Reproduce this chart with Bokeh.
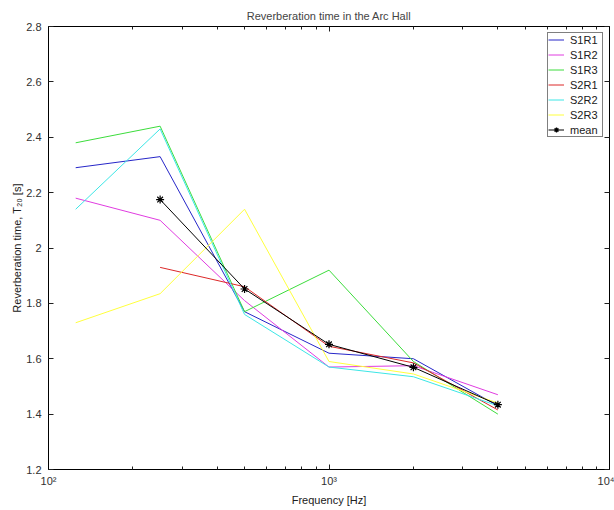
import math
from bokeh.plotting import figure
from bokeh.models import FixedTicker, LogAxis, LinearAxis, Legend, LegendItem
from bokeh.embed import file_html
from bokeh.resources import INLINE

freq = [125, 250, 500, 1000, 2000, 4000]
nan = float("nan")
S1R1 = [2.29, 2.33, 1.77, 1.62, 1.60, 1.43]
S1R2 = [2.18, 2.10, 1.81, 1.57, 1.575, 1.47]
S1R3 = [2.38, 2.44, 1.77, 1.92, 1.59, 1.40]
S2R1 = [nan, 1.93, 1.86, 1.645, 1.585, 1.415]
S2R2 = [2.14, 2.43, 1.76, 1.57, 1.535, 1.43]
S2R3 = [1.73, 1.835, 2.14, 1.59, 1.545, 1.44]
mean = [nan, 2.175, 1.852, 1.652, 1.569, 1.434]

series_names = ["S1R1", "S1R2", "S1R3", "S2R1", "S2R2", "S2R3"]
series_vals = [S1R1, S1R2, S1R3, S2R1, S2R2, S2R3]
series_colors = ["#2626c8", "#e03ce0", "#3cdc3c", "#dc2828", "#3ce6e6", "#ffff3c"]

x_major = [100, 1000, 10000]
x_major_labels = ["10²", "10³", "10⁴"]
x_minor = [200, 300, 400, 500, 600, 700, 800, 900,
           2000, 3000, 4000, 5000, 6000, 7000, 8000, 9000]
y_ticks = [1.2, 1.4, 1.6, 1.8, 2.0, 2.2, 2.4, 2.6, 2.8]
y_labels = ["1.2", "1.4", "1.6", "1.8", "2", "2.2", "2.4", "2.6", "2.8"]

FONT = "Liberation Sans"

p = figure(width=614, height=510, x_axis_type="log",
           x_range=(100, 10000), y_range=(1.2, 2.8),
           output_backend="svg", toolbar_location=None,
           title="Reverberation time in the Arc Hall",
           min_border_left=48, min_border_right=5,
           min_border_top=26, min_border_bottom=41)
p.title.align = "center"
p.title.text_font = FONT
p.title.text_font_size = "11px"
p.title.text_font_style = "normal"
p.title.standoff = 10
p.title.offset = 0

p.grid.visible = False
p.outline_line_color = "black"
p.outline_line_width = 1
p.background_fill_color = "white"
p.border_fill_color = "white"

xt = FixedTicker(ticks=x_major, minor_ticks=x_minor)
yt = FixedTicker(ticks=y_ticks)

xa = p.xaxis[0]
xa.ticker = xt
xa.major_label_overrides = dict(zip(x_major, x_major_labels))
xa.axis_label = "Frequency [Hz]"
ya = p.yaxis[0]
ya.ticker = yt
ya.major_label_overrides = dict(zip(y_ticks, y_labels))
ya.axis_label = "Reverberation time, T₂₀ [s]"

for ax in (xa, ya):
    ax.axis_line_color = "black"
    ax.major_tick_in = 5
    ax.major_tick_out = 0
    ax.minor_tick_in = 3
    ax.minor_tick_out = 0
    ax.major_tick_line_color = "#202020"
    ax.minor_tick_line_color = "#202020"
    ax.major_label_text_font = FONT
    ax.major_label_text_font_size = "11px"
    ax.major_label_text_color = "#303030"
    ax.axis_label_text_font = FONT
    ax.axis_label_text_font_size = "11px"
    ax.axis_label_text_font_style = "normal"
    ax.axis_label_text_color = "#202020"
xa.major_label_standoff = 5
xa.axis_label_standoff = 4
ya.major_label_standoff = 7
ya.axis_label_standoff = 0

top = LogAxis(ticker=FixedTicker(ticks=x_major, minor_ticks=x_minor))
right = LinearAxis(ticker=FixedTicker(ticks=y_ticks))
for ax in (top, right):
    ax.major_label_text_font_size = "1px"
    ax.major_label_text_alpha = 0
    ax.major_label_standoff = 0
    ax.major_tick_in = 5
    ax.major_tick_out = 0
    ax.minor_tick_in = 3
    ax.minor_tick_out = 0
    ax.major_tick_line_color = "#202020"
    ax.minor_tick_line_color = "#202020"
    ax.axis_line_color = "black"
p.add_layout(top, "above")
p.add_layout(right, "right")

items = []
for name, vals, col in zip(series_names, series_vals, series_colors):
    r = p.line(freq, vals, line_color=col, line_width=1)
    items.append(LegendItem(label=name, renderers=[r]))

rm = p.line(freq, mean, line_color="black", line_width=1)
rs = p.scatter(freq, mean, marker="asterisk", size=8, line_color="black", line_width=1.2)
items.append(LegendItem(label="mean", renderers=[rm, rs]))

legend = Legend(items=items, location="top_right")
legend.margin = 6
legend.padding = 0
legend.spacing = 2
legend.glyph_width = 16
legend.glyph_height = 13
legend.label_height = 13
legend.label_width = 32
legend.label_standoff = 6
legend.label_text_font = FONT
legend.label_text_font_size = "11px"
legend.label_text_color = "#202020"
legend.border_line_color = "black"
legend.border_line_width = 1
legend.background_fill_color = "white"
legend.background_fill_alpha = 1
p.add_layout(legend, "center")

open("out.html", "w").write(file_html(p, INLINE))
